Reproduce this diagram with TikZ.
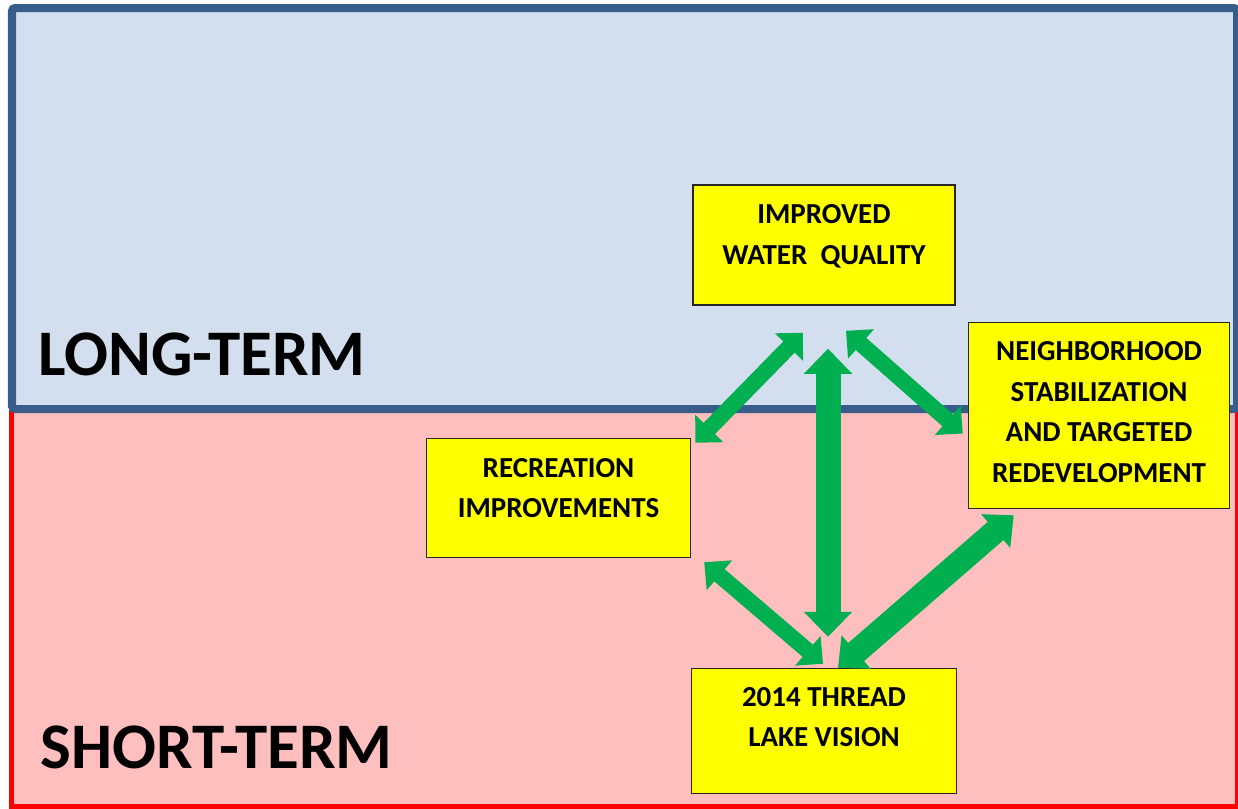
\documentclass[tikz,border=0pt]{standalone}
\usepackage{fontspec}
\setmainfont{Carlito}
\usepackage{tikz}
\usetikzlibrary{arrows.meta, positioning, calc}
\definecolor{longblue}{HTML}{385D8A}
\definecolor{longfill}{HTML}{D3DFEE}
\definecolor{shortfill}{HTML}{FFBFBF}
\definecolor{shortred}{HTML}{FF0000}
\definecolor{linkgreen}{HTML}{00B050}
\definecolor{boxyellow}{HTML}{FFFF00}
\tikzset{
    goal/.style={rectangle, draw=black!85, line width=0.3mm, fill=boxyellow, align=center, inner sep=0pt,
        font=\fontsize{16.5}{23}\selectfont\bfseries, text height=12.2mm},
    term/.style={font=\fontsize{37}{40}\selectfont\bfseries, inner sep=0pt, anchor=base west},
    link/.style={draw=linkgreen, line width=3.2mm, {Triangle[length=4mm, width=7.6mm]}-{Triangle[length=4mm, width=7.6mm]}},
    widelink/.style={draw=linkgreen, line width=4.8mm, {Triangle[length=4.8mm, width=8.6mm]}-{Triangle[length=4.8mm, width=8.6mm]}},
    mainlink/.style={draw=linkgreen, line width=5mm, {Triangle[length=5mm, width=9.4mm]}-{Triangle[length=5mm, width=9.4mm]}}
}

\begin{document}
\begin{tikzpicture}[x=0.2mm, y=-0.2mm]
    \useasboundingbox (0,0) rectangle (1238,809);

    % Time bands
    \draw [shortred, fill=shortfill, line width=1mm] (11,409) rectangle (1237,806);
    \draw [longblue, fill=longfill, line width=1.6mm, rounded corners=0.6mm] (12,8) rectangle (1237,409);
    \node (longterm) [term] at (38,375) {LONG-TERM};
    \node (shortterm) [term] at (40,768) {SHORT-TERM};

    % Goals
    \node (water) [goal, minimum width=52.4mm, minimum height=24mm, text depth=4.6mm] at (824,245) {IMPROVED\\WATER~~QUALITY};
    \node (neighborhood) [goal, below right=3.2mm and 2.4mm of water.south east, minimum width=52.2mm, minimum height=37.2mm, text height=28.4mm, text depth=1.8mm] {NEIGHBORHOOD\\STABILIZATION\\AND TARGETED\\REDEVELOPMENT};
    \node (recreation) [goal, below left=26.4mm and 0.2mm of water.south west, minimum width=52.8mm, minimum height=23.8mm, text depth=4.4mm] {RECREATION\\IMPROVEMENTS};
    \node (thread) [goal, below=72.4mm of water, minimum width=53mm, minimum height=25mm, text depth=6mm] {2014 THREAD\\LAKE VISION};

    % Links
    \draw [link] ($(recreation.north east)+(4,5)$) -- ($(water.south)+(-21,27)$);
    \draw [link] ($(water.south)+(22,25)$) -- ($(neighborhood.west)+(-5,18)$);
    \draw [mainlink] ($(water.south)+(4,43)$) -- ($(thread.north)+(4,-31)$);
    \draw [link] ($(recreation.south east)+(13,4)$) -- ($(thread.north)+(-1,-4)$);
    \draw [widelink] ($(neighborhood.south west)+(46,6)$) -- ($(thread.north)+(14,0)$);

\end{tikzpicture}
\end{document}
